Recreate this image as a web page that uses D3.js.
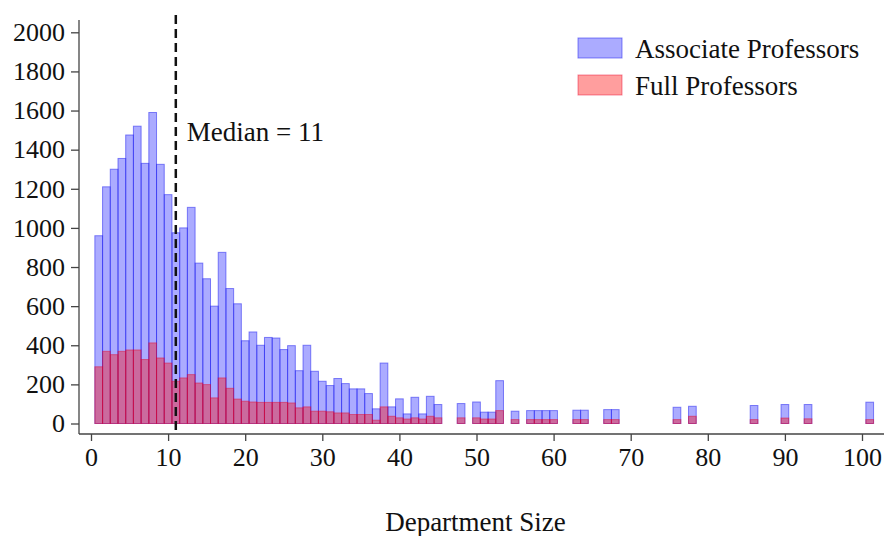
<!DOCTYPE html>
<html>
<head>
<meta charset="utf-8">
<script src="https://cdn.jsdelivr.net/npm/d3@7"></script>
<style>
  body { margin: 0; background: #fff; }
  svg { font-family: "Liberation Serif", "DejaVu Serif", serif; }
</style>
</head>
<body>
<div id="chart"></div>
<script>
// department sizes (bins) present in the histogram
const sizes = [1,2,3,4,5,6,7,8,9,10,11,12,13,14,15,16,17,18,19,20,
  21,22,23,24,25,26,27,28,29,30,31,32,33,34,35,36,37,38,39,40,
  41,42,43,44,45,48,50,51,52,53,55,57,58,59,60,63,64,67,68,76,78,86,90,93,101];

// associate professors per bin
const associate = [960,1210,1300,1355,1475,1520,1330,1590,1325,1170,
  975,1000,1105,820,740,600,875,690,612,423,
  468,400,440,437,378,398,270,400,267,216,
  194,230,204,177,177,153,75,309,85,126,
  49,134,49,139,97,102,110,58,58,219,63,66,66,66,66,68,68,71,71,83,88,92,97,97,109];

// full professors per bin
const full = [290,369,352,369,376,376,327,412,335,309,
  216,233,250,207,199,131,233,180,125,114,
  110,108,108,108,108,105,80,85,63,63,
  60,54,54,46,46,46,17,85,37,29,
  23,29,23,37,29,29,29,23,23,66,20,20,20,20,20,20,20,20,20,20,37,20,28,24,20];

const median = 11;
const xTicks = d3.range(0, 101, 10);
const yTicks = d3.range(0, 2001, 200);
const legendLabels = ["Associate Professors", "Full Professors"];

const width = 886, height = 536;

const svg = d3.select("#chart").append("svg")
  .attr("width", width)
  .attr("height", height);

// scales
const x = d3.scaleLinear().domain([0, 100]).range([91, 862]);
const y = d3.scaleLinear().domain([0, 2000]).range([423.5, 32.3]);

const blueFill = "rgba(0,0,255,0.33)", blueLine = "rgba(40,40,240,0.55)";
const redFill = "rgba(255,0,0,0.38)", redLine = "rgba(230,0,40,0.45)";

const rows = sizes.map((s, i) => ({size: s, assoc: associate[i], full: full[i]}));

// associate bars
svg.append("g").selectAll("rect")
  .data(rows)
  .join("rect")
    .attr("x", d => x(d.size - 0.5))
    .attr("width", d => x(d.size + 0.5) - x(d.size - 0.5))
    .attr("y", d => y(d.assoc))
    .attr("height", d => y(0) - y(d.assoc))
    .attr("fill", blueFill)
    .attr("stroke", blueLine)
    .attr("stroke-width", 1);

// full professor bars on top
svg.append("g").selectAll("rect")
  .data(rows)
  .join("rect")
    .attr("x", d => x(d.size - 0.5))
    .attr("width", d => x(d.size + 0.5) - x(d.size - 0.5))
    .attr("y", d => y(d.full))
    .attr("height", d => y(0) - y(d.full))
    .attr("fill", redFill)
    .attr("stroke", redLine)
    .attr("stroke-width", 1);

// x axis
const xAxis = svg.append("g")
  .attr("transform", "translate(0,434)")
  .call(d3.axisBottom(x).tickValues(xTicks).tickSize(7).tickPadding(7).tickSizeOuter(0));
xAxis.select(".domain").remove();
xAxis.append("line")
  .attr("x1", 79).attr("x2", 884)
  .attr("stroke", "#444").attr("stroke-width", 1.3);

// y axis
const yAxis = svg.append("g")
  .attr("transform", "translate(79,0)")
  .call(d3.axisLeft(y).tickValues(yTicks).tickFormat(d3.format("d"))
    .tickSize(8).tickPadding(6).tickSizeOuter(0));
yAxis.select(".domain").remove();
yAxis.append("line")
  .attr("y1", 20).attr("y2", 434)
  .attr("stroke", "#444").attr("stroke-width", 1.3);

svg.selectAll(".tick text")
  .attr("font-size", 26)
  .attr("font-family", "Liberation Serif")
  .attr("fill", "#111");
svg.selectAll(".tick line").attr("stroke", "#444").attr("stroke-width", 1.3);

// x axis title
svg.append("text")
  .attr("x", x(50) - 1)
  .attr("y", 531)
  .attr("text-anchor", "middle")
  .attr("font-size", 27)
  .attr("fill", "#111")
  .text("Department Size");

// median line
svg.append("line")
  .attr("x1", x(median)).attr("x2", x(median))
  .attr("y1", 15).attr("y2", 434)
  .attr("stroke", "#111")
  .attr("stroke-width", 2.5)
  .attr("stroke-dasharray", "9,5");

svg.append("text")
  .attr("x", x(median) + 11)
  .attr("y", 141)
  .attr("font-size", 27)
  .attr("fill", "#111")
  .text("Median = " + median);

// legend
const legend = svg.append("g").attr("transform", "translate(578,38)");
const legendColors = [[blueFill, blueLine], [redFill, redLine]];
legendLabels.forEach((lab, i) => {
  const g = legend.append("g").attr("transform", `translate(0,${i * 37})`);
  g.append("rect")
    .attr("width", 44).attr("height", 20)
    .attr("fill", legendColors[i][0])
    .attr("stroke", legendColors[i][1]);
  g.append("text")
    .attr("x", 57).attr("y", 20)
    .attr("font-size", 27)
    .attr("fill", "#111")
    .text(lab);
});
</script>
</body>
</html>
